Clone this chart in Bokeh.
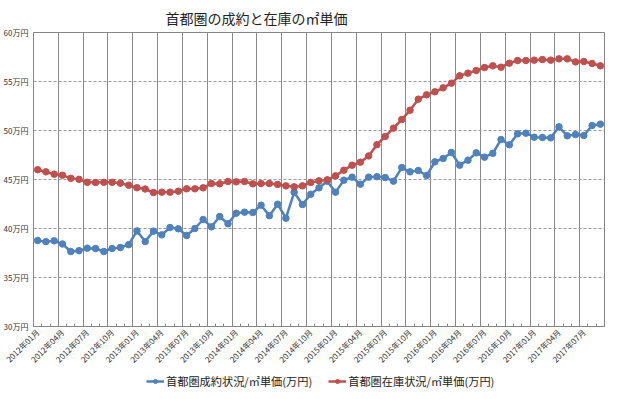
import math
from bokeh.plotting import figure
from bokeh.layouts import column
from bokeh.models import FixedTicker, Range1d, Legend, LegendItem
from bokeh.embed import file_html
from bokeh.resources import INLINE

# --- data -------------------------------------------------------------
months = [f"{y}年{m:02d}月" for y in range(2012, 2018) for m in range(1, 13)][:69]

seiyaku = [38.78, 38.66, 38.74, 38.42, 37.65, 37.74, 37.99, 37.96, 37.65, 37.96,
           38.06, 38.35, 39.75, 38.67, 39.73, 39.35, 40.10, 39.97, 39.29, 40.00,
           40.92, 40.17, 41.22, 40.48, 41.56, 41.67, 41.63, 42.38, 41.31, 42.48,
           41.05, 43.69, 42.45, 43.50, 44.15, 44.83, 43.71, 44.93, 45.24, 44.52,
           45.24, 45.29, 45.20, 44.83, 46.22, 45.78, 45.92, 45.41, 46.80, 47.14,
           47.76, 46.46, 46.97, 47.72, 47.28, 47.67, 49.08, 48.54, 49.66, 49.73,
           49.32, 49.29, 49.25, 50.37, 49.46, 49.59, 49.49, 50.51, 50.65]

zaiko = [46.00, 45.78, 45.54, 45.44, 45.12, 45.02, 44.71, 44.70, 44.71, 44.71,
         44.63, 44.42, 44.16, 44.03, 43.67, 43.71, 43.71, 43.81, 44.05, 44.05,
         44.15, 44.59, 44.56, 44.80, 44.76, 44.80, 44.56, 44.59, 44.59, 44.50,
         44.35, 44.25, 44.35, 44.70, 44.86, 44.97, 45.37, 45.95, 46.46, 46.77,
         47.41, 48.55, 49.39, 50.24, 51.12, 52.07, 53.20, 53.64, 53.95, 54.35,
         54.83, 55.58, 55.85, 56.12, 56.43, 56.60, 56.46, 56.87, 57.14, 57.14,
         57.18, 57.24, 57.18, 57.31, 57.31, 57.00, 57.04, 56.84, 56.60]

y_ticks = [30, 35, 40, 45, 50, 55, 60]
y_tick_labels = ["30万円", "35万円", "40万円", "45万円", "50万円", "55万円", "60万円"]

series_names = ["首都圏成約状況/㎡単価(万円)", "首都圏在庫状況/㎡単価(万円)"]
title_text = "首都圏の成約と在庫の㎡単価"

# --- layout constants ---------------------------------------------------
FONT = "Noto Sans CJK JP"
BLUE = "#4f81bd"
RED = "#c0504d"
W = 604
LEFT, RIGHT = 32, 1
FRAME_W = W - LEFT - RIGHT
FRAME_H = 294
H_LEG = 18
N = len(months)
x = list(range(1, N + 1))

# --- main chart ---------------------------------------------------------
p = figure(frame_width=FRAME_W, frame_height=FRAME_H, output_backend="svg",
           toolbar_location=None,
           x_range=Range1d(0.5, N + 0.5), y_range=Range1d(30, 60),
           min_border_left=LEFT, min_border_right=RIGHT, min_border_top=26,
           min_border_bottom=0,
           background_fill_color="white", border_fill_color="white")

p.title.text = title_text
p.title.text_font = FONT
p.title.text_font_size = "14px"
p.title.text_font_style = "normal"
p.title.text_color = "#222222"
p.title.align = "left"
p.title.offset = 132

p.outline_line_color = "#868686"
p.outline_line_width = 1

# x axis: labels every 3 months at category centres, boundaries as minor ticks
label_pos = x[::3]
p.xaxis.ticker = FixedTicker(ticks=label_pos,
                             minor_ticks=[i + 0.5 for i in range(0, N + 1)])
p.xaxis.major_label_overrides = {i: months[i - 1] for i in label_pos}
p.xaxis.major_label_orientation = math.pi / 4
p.xaxis.major_label_text_font = FONT
p.xaxis.major_label_text_font_size = "8px"
p.xaxis.major_label_text_color = "#333333"
p.xaxis.major_label_standoff = 4
p.xaxis.major_tick_line_color = None
p.xaxis.major_tick_in = 0
p.xaxis.major_tick_out = 0
p.xaxis.axis_label_standoff = 0
p.xaxis.minor_tick_line_color = "#868686"
p.xaxis.minor_tick_in = 3
p.xaxis.minor_tick_out = 0
p.xaxis.axis_line_color = "#868686"

p.xgrid.ticker = FixedTicker(ticks=[i + 0.5 for i in range(0, N + 1, 3)])
p.xgrid.grid_line_color = "#8a8a8a"
p.xgrid.grid_line_width = 1

# y axis
p.yaxis.ticker = FixedTicker(ticks=y_ticks)
p.yaxis.major_label_overrides = dict(zip(y_ticks, y_tick_labels))
p.yaxis.major_label_text_font = FONT
p.yaxis.major_label_text_font_size = "8px"
p.yaxis.major_label_text_color = "#333333"
p.yaxis.major_label_standoff = 5
p.yaxis.major_tick_line_color = None
p.yaxis.major_tick_out = 0
p.yaxis.minor_tick_line_color = None
p.yaxis.axis_line_color = "#868686"

p.ygrid.grid_line_color = "#9a9a9a"
p.ygrid.grid_line_dash = "3 2"
p.ygrid.grid_line_width = 1

# series
p.line(x, seiyaku, line_color=BLUE, line_width=2.5)
p.scatter(x, seiyaku, size=6.5, fill_color=BLUE, line_color=BLUE)
p.line(x, zaiko, line_color=RED, line_width=2.5)
p.scatter(x, zaiko, size=6.5, fill_color=RED, line_color=RED)

# --- legend strip ---------------------------------------------------------
q = figure(width=W, height=H_LEG, output_backend="svg", toolbar_location=None,
           x_range=Range1d(0, 1), y_range=Range1d(0, 1),
           x_axis_location=None, y_axis_location=None,
           min_border_left=LEFT, min_border_right=RIGHT, min_border_top=0,
           min_border_bottom=0, background_fill_alpha=0, border_fill_alpha=0)
q.outline_line_color = None
q.xgrid.visible = False
q.ygrid.visible = False

# legend swatches (points placed outside the visible range)
d1 = q.line([-5, -4], [-5, -4], line_color=BLUE, line_width=2.5)
e1 = q.scatter([-5], [-5], size=6.5, fill_color=BLUE, line_color=BLUE)
d2 = q.line([-5, -4], [-5, -4], line_color=RED, line_width=2.5)
e2 = q.scatter([-5], [-5], size=6.5, fill_color=RED, line_color=RED)

legend = Legend(items=[LegendItem(label=series_names[0], renderers=[d1, e1]),
                       LegendItem(label=series_names[1], renderers=[d2, e2])],
                orientation="horizontal", location=(113, 0),
                label_text_font=FONT, label_text_font_size="11.2px",
                label_text_color="#222222", glyph_width=18, glyph_height=10,
                label_standoff=2, spacing=16, padding=1, margin=0,
                border_line_color=None, background_fill_alpha=0)
q.add_layout(legend, "center")

layout = column(p, q, spacing=0)
open("out.html", "w").write(file_html(layout, INLINE))
